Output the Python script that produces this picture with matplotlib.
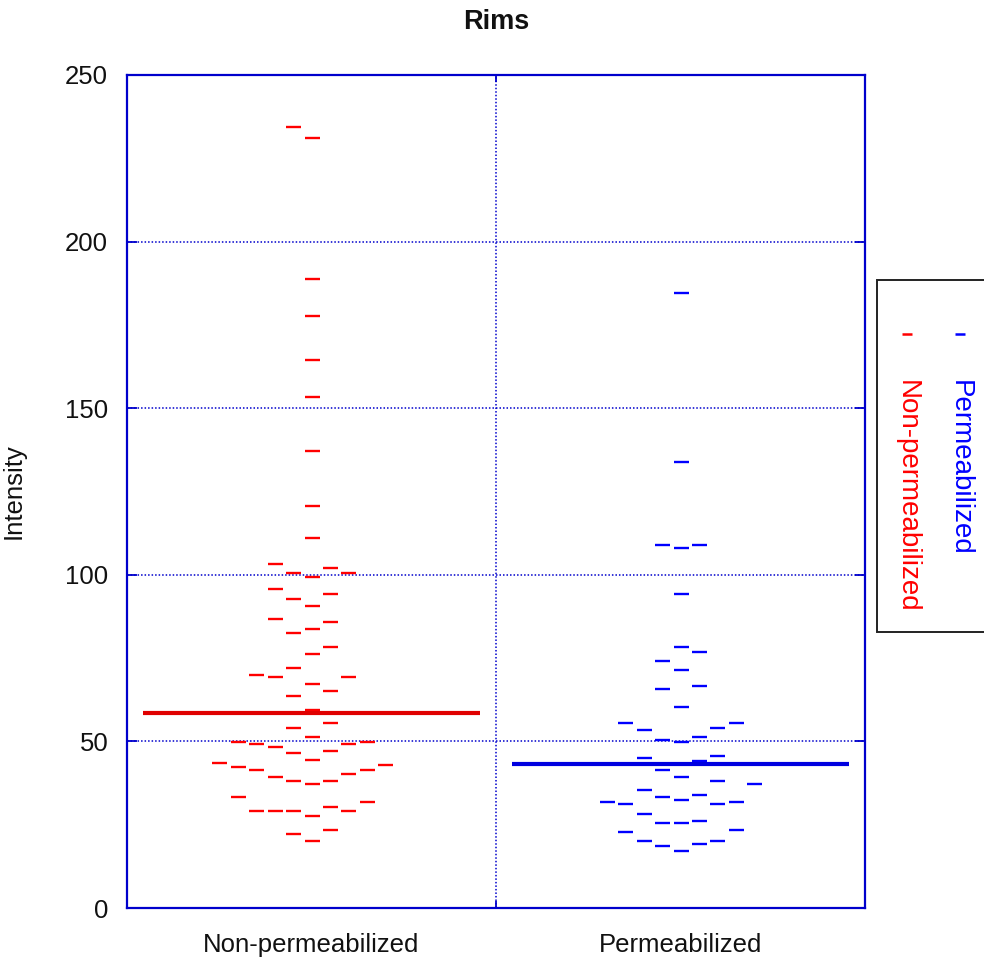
import matplotlib
matplotlib.use("Agg")
import matplotlib.pyplot as plt
import numpy as np
from matplotlib.patches import Rectangle
from matplotlib.lines import Line2D

# ---------------- data ----------------
categories = ["Non-permeabilized", "Permeabilized"]
non_permeabilized = [234.5, 231.1, 188.7, 177.6, 164.5, 153.4, 137.2, 120.6, 110.9,
                     101.9, 103.3, 100.5, 99.2, 100.5, 92.8, 94.3, 95.6, 90.7, 86.6,
                     85.9, 83.8, 82.4, 78.2, 76.2, 72.1, 69.3, 67.2, 63.7, 65.1, 69.3,
                     70.0, 59.4, 55.4, 54.0, 49.9, 49.2, 48.4, 46.4, 47.1, 49.2, 49.9,
                     51.3, 44.3, 42.9, 41.5, 40.1, 38.0, 37.3, 38.0, 39.4, 41.5, 42.2,
                     43.6, 33.2, 30.4, 27.6, 29.0, 29.0, 29.0, 29.0, 31.8, 22.1, 20.0,
                     23.5]
permeabilized = [184.5, 133.9, 108.8, 108.1, 108.8, 94.2, 78.3, 76.9, 74.1, 71.4,
                 65.8, 66.5, 60.3, 55.4, 53.3, 54.0, 55.4, 51.3, 49.8, 50.5, 45.0,
                 44.2, 45.7, 41.5, 39.4, 37.3, 38.0, 33.8, 35.3, 33.2, 31.8, 31.1,
                 31.1, 31.8, 32.5, 28.3, 25.5, 25.5, 26.2, 22.8, 23.5, 20.0, 18.6,
                 17.2, 19.3, 20.0]
center_values = [58.5, 43.3]
y_ticks = [0, 50, 100, 150, 200, 250]
title = "Rims"
y_label = "Intensity"
series_colors = ["#ff0000", "#0000ff"]
line_colors = ["#e00000", "#0000e0"]
axis_blue = "#0000cc"

FONT = ["Liberation Sans", "DejaVu Sans"]
plt.rcParams["font.family"] = FONT


def swarm_slots(values, tol=6.5):
    """Simple discrete beeswarm: ascending order, nearest free column."""
    values = np.asarray(values, dtype=float)
    order = np.argsort(values, kind="stable")
    columns = {}
    slots = np.zeros(len(values), dtype=int)
    cands = [0]
    for n in range(1, 60):
        cands += [-n, n]
    for i in order:
        v = values[i]
        for c in cands:
            if all(abs(v - u) >= tol for u in columns.get(c, [])):
                columns.setdefault(c, []).append(v)
                slots[i] = c
                break
    return slots


fig = plt.figure(figsize=(9.84, 9.64), dpi=100)
ax = fig.add_axes([127 / 984, 1 - 908 / 964, (865 - 127) / 984, (908 - 75) / 964])

col_width = 0.05
half_line = 0.457
groups = [non_permeabilized, permeabilized]
for gi, (vals, col, lcol) in enumerate(zip(groups, series_colors, line_colors)):
    pos = gi + 1
    slots = swarm_slots(vals)
    xs = pos + slots * col_width
    ax.plot(xs, vals, linestyle="none", marker="_", ms=10.8, mew=1.7,
            color=col, zorder=3)
    ax.hlines(center_values[gi], pos - half_line, pos + half_line,
              color=lcol, lw=3.0, zorder=4)

ax.set_xlim(0.5, 2.5)
ax.set_ylim(0, 250)
ax.set_yticks(y_ticks)
ax.set_xticks([1, 2])
ax.set_xticklabels(categories)
ax.set_xticks([1.5], minor=True)

ax.tick_params(axis="y", which="major", direction="in", left=True, right=True,
               length=7.5, width=1.3, color=axis_blue, labelsize=18.5, pad=13.5,
               labelcolor="#111111")
ax.tick_params(axis="x", which="major", length=0, labelsize=18.5, pad=18,
               labelcolor="#111111")
ax.tick_params(axis="x", which="minor", direction="in", top=True, bottom=True,
               length=5, width=1.3, color=axis_blue)

ax.grid(axis="y", which="major", color=axis_blue, linestyle=(0, (1, 1.3)), lw=1.1)
ax.grid(axis="x", which="minor", color=axis_blue, linestyle=(0, (1, 1.3)), lw=1.1)
ax.grid(axis="x", which="major", visible=False)
ax.set_axisbelow(True)

for sp in ax.spines.values():
    sp.set_color(axis_blue)
    sp.set_linewidth(1.6)

ax.set_ylabel(y_label, fontsize=18.5, color="#111111")
ax.yaxis.set_label_coords(-0.138, 0.5)

fig.text((127 + 865) / 2 / 984, 1 - 22 / 964, title, ha="center", va="center",
         fontsize=19.5, fontweight="bold", color="#111111")

# ---------------- legend box (rotated entries) ----------------
fig.patches.append(Rectangle((877 / 984, 1 - 632 / 964), 0.2, (632 - 280) / 964,
                             transform=fig.transFigure, facecolor="white",
                             edgecolor="#222222", lw=1.4, zorder=1))
legend_x = [960 / 984, 907 / 984]
legend_labels = [categories[1], categories[0]]
legend_cols = [series_colors[1], series_colors[0]]
for lx, lab, lc in zip(legend_x, legend_labels, legend_cols):
    fig.lines.append(Line2D([lx], [1 - 334 / 964], transform=fig.transFigure,
                            marker="_", ms=6.5, mew=1.8, color=lc, linestyle="none"))
    fig.text(lx, 1 - 380 / 964, lab, rotation=-90, ha="center", va="top",
             fontsize=20, color=lc)

fig.savefig("out.png", dpi=100, facecolor="white")
